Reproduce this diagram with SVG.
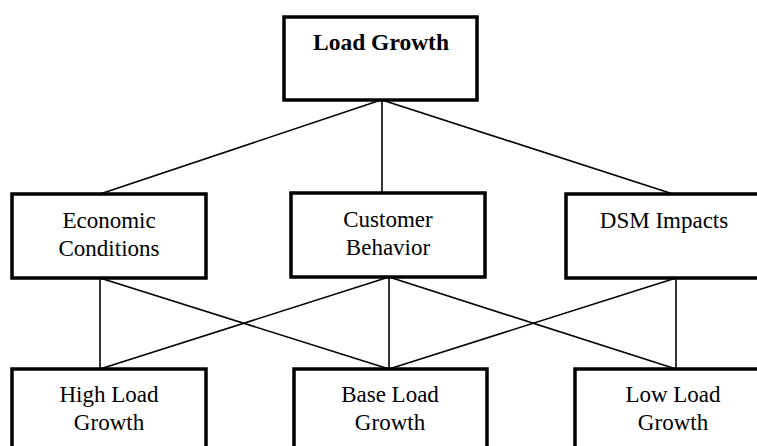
<svg xmlns="http://www.w3.org/2000/svg" width="757" height="446" viewBox="0 0 757 446">
<style>
.box{fill:#fff;stroke:#000;stroke-width:3.5}
text{font-family:"Liberation Serif","Times New Roman",Tinos,"DejaVu Serif",serif;font-size:23px;fill:#000;text-anchor:middle}
.b{font-weight:bold;font-size:23.5px}
.c{stroke:#000;stroke-width:1.6;fill:none}
</style>
<rect width="757" height="446" fill="#fff"/>
<g id="connectors">
<line class="c" x1="381" y1="100" x2="100" y2="194"/>
<line class="c" x1="382" y1="100" x2="382" y2="193"/>
<line class="c" x1="382" y1="100" x2="673" y2="194"/>
<line class="c" x1="100" y1="278" x2="100" y2="369"/>
<line class="c" x1="100" y1="278" x2="389" y2="369"/>
<line class="c" x1="389" y1="277" x2="100" y2="369"/>
<line class="c" x1="389" y1="277" x2="389" y2="369"/>
<line class="c" x1="389" y1="277" x2="676" y2="369"/>
<line class="c" x1="676" y1="278" x2="389" y2="369"/>
<line class="c" x1="676" y1="278" x2="676" y2="369"/>
</g>
<g id="load-growth">
<rect class="box" x="284" y="17" width="193" height="83"/>
<text class="b" x="381" y="50">Load Growth</text>
</g>
<g id="economic-conditions">
<rect class="box" x="12" y="194" width="194" height="84"/>
<text x="109" y="228">Economic</text>
<text x="109" y="256">Conditions</text>
</g>
<g id="customer-behavior">
<rect class="box" x="291" y="193" width="194" height="84"/>
<text x="388" y="227">Customer</text>
<text x="388" y="255">Behavior</text>
</g>
<g id="dsm-impacts">
<rect class="box" x="566" y="194" width="196" height="84"/>
<text x="664" y="228">DSM Impacts</text>
</g>
<g id="high-load-growth">
<rect class="box" x="12" y="369" width="194" height="90"/>
<text x="109" y="402">High Load</text>
<text x="109" y="430">Growth</text>
</g>
<g id="base-load-growth">
<rect class="box" x="294" y="369" width="193" height="90"/>
<text x="390" y="402">Base Load</text>
<text x="390" y="430">Growth</text>
</g>
<g id="low-load-growth">
<rect class="box" x="575" y="369" width="196" height="90"/>
<text x="673" y="402">Low Load</text>
<text x="673" y="430">Growth</text>
</g>
</svg>
